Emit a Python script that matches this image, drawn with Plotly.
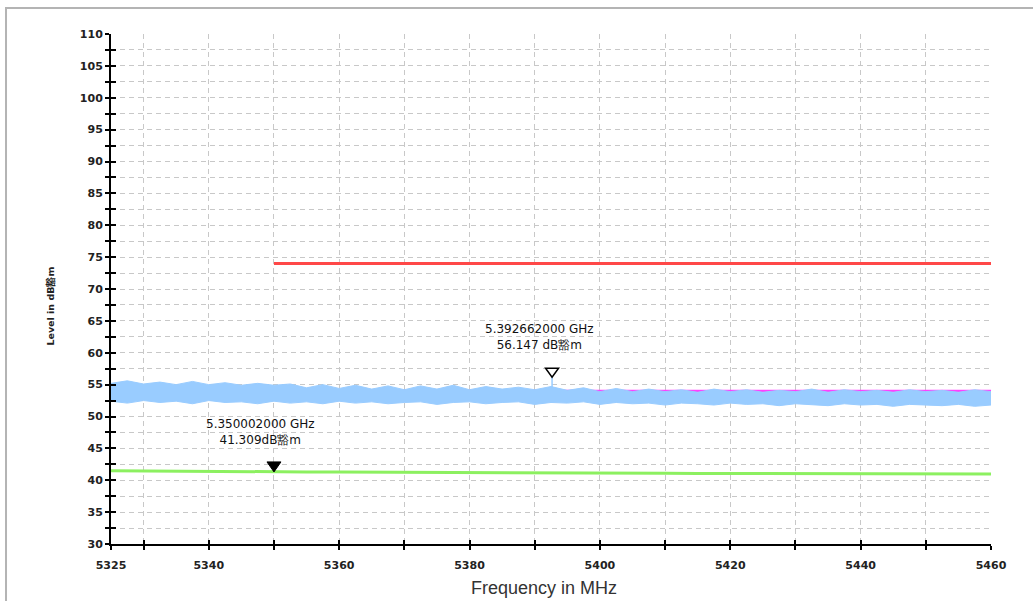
import plotly.graph_objects as go

# ---------------- data ----------------
x_tick_vals = [5325, 5330, 5340, 5350, 5360, 5370, 5380, 5390, 5400, 5410, 5420, 5430, 5440, 5450, 5460]
x_tick_text = ["5325", "", "5340", "", "5360", "", "5380", "", "5400", "", "5420", "", "5440", "", "5460"]

y_tick_vals = [30, 32.5, 35, 37.5, 40, 42.5, 45, 47.5, 50, 52.5, 55, 57.5, 60, 62.5, 65, 67.5,
               70, 72.5, 75, 77.5, 80, 82.5, 85, 87.5, 90, 92.5, 95, 97.5, 100, 102.5, 105, 107.5, 110]
y_tick_text = ["30", "", "35", "", "40", "", "45", "", "50", "", "55", "", "60", "", "65", "",
               "70", "", "75", "", "80", "", "85", "", "90", "", "95", "", "100", "", "105", "", "110"]

# peak trace (blue) envelope
peak_freq = [5325, 5327.5, 5330, 5332.5, 5335, 5337.5, 5340, 5342.5, 5345, 5347.5,
             5350, 5352.5, 5355, 5357.5, 5360, 5362.5, 5365, 5367.5, 5370, 5372.5,
             5375, 5377.5, 5380, 5382.5, 5385, 5387.5, 5390, 5392.5, 5395, 5397.5,
             5400, 5402.5, 5405, 5407.5, 5410, 5412.5, 5415, 5417.5, 5420, 5422.5,
             5425, 5427.5, 5430, 5432.5, 5435, 5437.5, 5440, 5442.5, 5445, 5447.5,
             5450, 5452.5, 5455, 5457.5, 5460]
peak_upper = [55.2, 55.6, 55.1, 55.4, 55.0, 55.5, 55.0, 55.3, 54.9, 55.2,
              54.9, 55.1, 54.5, 55.0, 54.4, 54.9, 54.3, 54.8, 54.2, 54.8,
              54.3, 54.9, 54.2, 54.7, 54.3, 54.6, 54.2, 54.7, 54.1, 54.5,
              53.9, 54.4, 53.9, 54.3, 53.9, 54.2, 53.8, 54.3, 53.9, 54.2,
              53.8, 54.1, 53.9, 54.3, 53.8, 54.2, 53.9, 54.1, 53.8, 54.2,
              53.9, 54.1, 53.8, 54.2, 53.9]
peak_lower = [52.4, 52.1, 52.5, 52.2, 52.4, 52.0, 52.5, 52.2, 52.3, 52.0,
              52.4, 52.1, 52.3, 52.0, 52.4, 52.1, 52.3, 52.0, 52.2, 52.3,
              51.9, 52.2, 52.3, 52.0, 52.2, 52.3, 51.9, 52.2, 52.1, 52.3,
              51.9, 52.2, 52.0, 52.1, 51.8, 52.1, 52.0, 51.8, 52.1, 51.9,
              52.0, 51.7, 52.0, 51.9, 51.7, 52.0, 51.8, 51.9, 51.6, 51.9,
              51.8, 51.7, 51.9, 51.6, 51.8]
spike_freq = [5392.662, 5392.662]
spike_level = [54.6, 56.147]

# average trace (green)
avg_freq = [5325, 5330, 5335, 5340, 5345, 5350, 5355, 5360, 5365, 5370, 5375, 5380, 5385, 5390,
            5395, 5400, 5405, 5410, 5415, 5420, 5425, 5430, 5435, 5440, 5445, 5450, 5455, 5460]
avg_level = [41.5, 41.45, 41.42, 41.38, 41.35, 41.31, 41.3, 41.28, 41.25, 41.22, 41.2, 41.18, 41.16, 41.15,
             41.12, 41.1, 41.1, 41.08, 41.07, 41.05, 41.05, 41.04, 41.03, 41.02, 41.02, 41.0, 41.0, 40.98]

# limit lines
peak_limit_freq = [5350, 5460]
peak_limit_level = [74, 74]
avg_limit_freq = [5350, 5460]
avg_limit_level = [54, 54]

# markers
marker_freq = [5350.002, 5392.662]
marker_level = [41.309, 56.147]
marker_text = ["5.350002000 GHz<br>41.309dB豁m", "5.392662000 GHz<br>56.147 dB豁m"]
marker_filled = [True, False]

X_RANGE = [5325, 5460]
Y_RANGE = [30, 110]

# ---------------- figure ----------------
fig = go.Figure()

fig.add_trace(go.Scatter(x=avg_freq, y=avg_level, mode="lines",
                         line=dict(color="#8cf060", width=3), hoverinfo="skip"))
fig.add_trace(go.Scatter(x=peak_limit_freq, y=peak_limit_level, mode="lines",
                         line=dict(color="#ff4848", width=3), hoverinfo="skip"))
fig.add_trace(go.Scatter(x=avg_limit_freq, y=avg_limit_level, mode="lines",
                         line=dict(color="#ff40ff", width=2.5), hoverinfo="skip"))
fig.add_trace(go.Scatter(x=peak_freq, y=peak_lower, mode="lines",
                         line=dict(color="#99ccff", width=1), hoverinfo="skip"))
fig.add_trace(go.Scatter(x=peak_freq, y=peak_upper, mode="lines", fill="tonexty",
                         fillcolor="#99ccff", line=dict(color="#99ccff", width=1), hoverinfo="skip"))
fig.add_trace(go.Scatter(x=spike_freq, y=spike_level, mode="lines",
                         line=dict(color="#99ccff", width=1.5), hoverinfo="skip"))
# dummy trace to activate overlay axes (inner tick halves)
fig.add_trace(go.Scatter(x=[None], y=[None], xaxis="x2", yaxis="y2", mode="lines", hoverinfo="skip"))

tick_font = dict(family="DejaVu Sans", size=11, color="#222222", weight="bold")
grid_common = dict(showgrid=True, gridcolor="#c8c8c8", gridwidth=1, griddash="5px,4px",
                   zeroline=False, showline=True, linecolor="#000000", linewidth=2,
                   ticks="outside", ticklen=4, tickwidth=1.5, tickcolor="#000000")

fig.update_layout(
    width=1033, height=601,
    margin=dict(l=111, r=42, t=34, b=57),
    paper_bgcolor="white", plot_bgcolor="white",
    showlegend=False,
    xaxis=dict(range=X_RANGE, tickmode="array", tickvals=x_tick_vals, ticktext=x_tick_text,
               tickfont=tick_font, ticklabelstandoff=6, **grid_common),
    yaxis=dict(range=Y_RANGE, tickmode="array", tickvals=y_tick_vals, ticktext=y_tick_text,
               tickfont=tick_font, **grid_common),
    xaxis2=dict(overlaying="x", anchor="y", side="bottom", range=X_RANGE, tickmode="array",
                tickvals=x_tick_vals, showticklabels=False, showgrid=False, zeroline=False,
                showline=False, ticks="inside", ticklen=4, tickwidth=1.5, tickcolor="#000000"),
    yaxis2=dict(overlaying="y", anchor="x", side="left", range=Y_RANGE, tickmode="array",
                tickvals=y_tick_vals, showticklabels=False, showgrid=False, zeroline=False,
                showline=False, ticks="inside", ticklen=5, tickwidth=1.5, tickcolor="#000000"),
)

# marker triangles (tip at the marker value) and labels
for f, lv, txt, filled in zip(marker_freq, marker_level, marker_text, marker_filled):
    fig.add_shape(type="path", xref="x", yref="y", xsizemode="pixel", ysizemode="pixel",
                  xanchor=f, yanchor=lv,
                  path="M-7,10 L7,10 L0,0 Z" if filled else "M-6.5,9 L6.5,9 L0,0 Z",
                  fillcolor="#000000" if filled else "#ffffff",
                  line=dict(color="#000000", width=1 if filled else 1.5))
    fig.add_annotation(x=f, y=lv, xref="x", yref="y", text=txt, showarrow=False,
                       xanchor="center", yanchor="bottom", xshift=-13, yshift=23,
                       font=dict(family="DejaVu Sans", size=12, color="#111111"))

# axis titles
fig.add_annotation(x=0.492, y=-0.086, xref="paper", yref="paper", text="Frequency in MHz",
                   showarrow=False, xanchor="center", yanchor="middle",
                   font=dict(family="Liberation Sans, Arial", size=18, color="#333333"))
fig.add_annotation(x=-0.069, y=0.466, xref="paper", yref="paper", text="Level in dB豁m",
                   showarrow=False, textangle=-90, xanchor="center", yanchor="middle",
                   font=dict(family="DejaVu Sans", size=9.5, color="#222222", weight="bold"))

# outer frame
fig.add_shape(type="rect", xref="paper", yref="paper", x0=-0.1193, x1=1.07, y0=-0.14, y1=1.051,
              line=dict(color="#b4b4b4", width=2), fillcolor="rgba(0,0,0,0)", layer="below")

fig.write_html("out.html")
